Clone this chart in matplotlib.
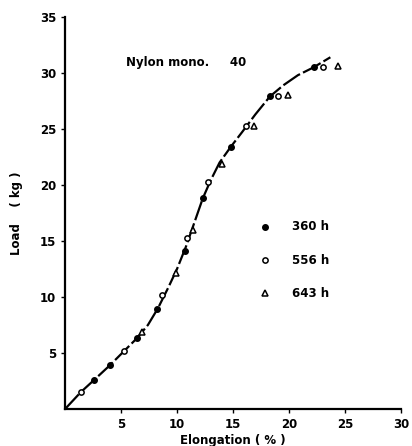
import numpy as np
import matplotlib.pyplot as plt

# Datos: elongacion (%) y carga (kg)
x_360 = [2.6, 4.0, 6.4, 8.2, 10.7, 12.3, 14.8, 18.3, 22.2]
y_360 = [2.6, 3.9, 6.3, 8.9, 14.1, 18.8, 23.4, 27.9, 30.5]

x_556 = [1.4, 5.3, 8.7, 10.9, 12.8, 16.2, 19.0, 23.0]
y_556 = [1.5, 5.2, 10.2, 15.3, 20.3, 25.3, 27.9, 30.5]

x_643 = [6.9, 9.9, 11.4, 14.0, 16.9, 19.9, 24.4]
y_643 = [6.9, 12.1, 16.0, 21.9, 25.3, 28.0, 30.6]

# Curva ajustada (trazada a mano en el original)
curva_x = [0, 1.4, 2.6, 4.0, 5.3, 6.4, 7.4, 8.3, 9.2, 10.0, 10.8, 11.5, 12.3,
           13.0, 13.8, 14.8, 15.8, 17.0, 18.3, 19.5, 20.8, 22.2, 23.7]
curva_y = [0, 1.5, 2.6, 3.9, 5.2, 6.3, 7.5, 9.0, 10.8, 12.5, 14.5, 16.5, 18.8,
           20.4, 22.0, 23.4, 24.7, 26.3, 27.9, 28.9, 29.8, 30.5, 31.4]

leyenda = ["360 h", "556 h", "643 h"]

fig = plt.figure(figsize=(4.12, 4.46), dpi=100)
ax = fig.add_axes([0.158, 0.083, 0.815, 0.879])

ax.plot(curva_x, curva_y, color='black', lw=1.6, dashes=(9, 1.5))
ax.plot(x_360, y_360, 'o', color='black', ms=4)
ax.plot(x_556, y_556, 'o', mfc='white', mec='black', mew=1.1, ms=3.8)
ax.plot(x_643, y_643, '^', mfc='white', mec='black', mew=1.1, ms=5)

ax.set_xlim(0, 30)
ax.set_ylim(0, 35)
ax.set_xticks([5, 10, 15, 20, 25, 30])
ax.set_yticks([5, 10, 15, 20, 25, 30, 35])
ax.spines['top'].set_visible(False)
ax.spines['right'].set_visible(False)
ax.spines['left'].set_linewidth(1.6)
ax.spines['bottom'].set_linewidth(1.6)
ax.tick_params(axis='both', length=3, width=1, labelsize=8.5)
for lbl in ax.get_xticklabels() + ax.get_yticklabels():
    lbl.set_fontweight('bold')

ax.set_xlabel("Elongation ( % )", fontsize=8.5, fontweight='bold', labelpad=2)
ax.set_ylabel("Load    ( kg )", fontsize=8.5, fontweight='bold', labelpad=12)

ax.text(0.18, 0.875, "Nylon mono.     40", transform=ax.transAxes,
        fontsize=8.5, fontweight='bold')

# Leyenda manual
marcadores = [dict(marker='o', color='black', ms=4),
              dict(marker='o', mfc='white', mec='black', mew=1.1, ms=3.8),
              dict(marker='^', mfc='white', mec='black', mew=1.1, ms=5)]
for i, (m, txt) in enumerate(zip(marcadores, leyenda)):
    yy = 0.465 - i * 0.085
    ax.plot([0.595], [yy], transform=ax.transAxes, linestyle='none', **m)
    ax.text(0.675, yy, txt, transform=ax.transAxes, fontsize=8.5,
            fontweight='bold', va='center')

fig.savefig("out.png", dpi=100)
